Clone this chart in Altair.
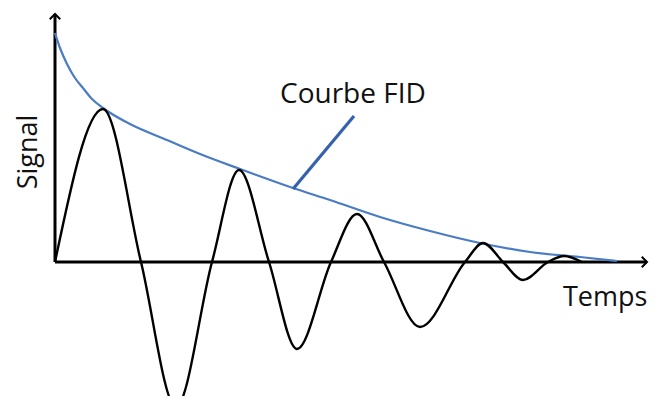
import altair as alt
import pandas as pd

# --- values (time / signal, arbitrary units) ---
osc_t = [0, 0.48, 0.86, 1.21, 1.57, 1.84, 2.14, 2.42, 2.76, 3.02, 3.29, 3.65, 4.10, 4.28, 4.48, 4.68, 4.93, 5.09, 5.27]
osc_s = [0, 1.53, 0, -1.45, 0, 0.92, 0, -0.87, 0, 0.48, 0, -0.65, 0, 0.19, 0, -0.18, 0, 0.06, 0]

fid_t = [0, 0.05, 0.12, 0.20, 0.28, 0.37, 0.48, 0.75, 1.12, 1.45, 1.85, 2.38, 2.75, 3.25, 3.75, 4.25, 4.75, 5.25, 5.62]
fid_s = [2.29, 2.14, 1.98, 1.84, 1.74, 1.63, 1.54, 1.38, 1.22, 1.08, 0.93, 0.74, 0.62, 0.45, 0.31, 0.19, 0.10, 0.05, 0.01]

pointer_t = [2.38, 2.99]
pointer_s = [0.73, 1.46]

axis_x_end = 5.92
axis_y_end = 2.48

labels = ["Courbe FID", "Temps"]
label_t = [2.25, 5.08]
label_s = [1.59, -0.44]
label_size = [28, 27]

ylabel = "Signal"
ylabel_t = -0.18
ylabel_s = 1.10

x_domain = [-0.47, 5.95]
y_domain = [-1.34, 2.54]

W, H = 642, 388
FONT = "Open Sans"

xs = alt.Scale(domain=x_domain, nice=False, zero=False)
ys = alt.Scale(domain=y_domain, nice=False, zero=False)

def X(f="t"):
    return alt.X(f"{f}:Q", scale=xs, axis=None)

def Y(f="s"):
    return alt.Y(f"{f}:Q", scale=ys, axis=None)

osc_df = pd.DataFrame({"t": osc_t, "s": osc_s})
fid_df = pd.DataFrame({"t": fid_t, "s": fid_s})
ptr_df = pd.DataFrame({"t": pointer_t, "s": pointer_s})
axes_df = pd.DataFrame({"t": [0, 0], "s": [0, 0], "t2": [axis_x_end, 0], "s2": [0, axis_y_end]})
lab_df = pd.DataFrame({"label": labels, "t": label_t, "s": label_s, "size": label_size})
ylab_df = pd.DataFrame({"label": [ylabel], "t": [ylabel_t], "s": [ylabel_s]})
arrow_df = pd.DataFrame({"t": [0, axis_x_end], "s": [axis_y_end, 0], "dir": ["up", "right"]})

axes = alt.Chart(axes_df).mark_rule(color="#000000", strokeWidth=3).encode(
    x=X(), y=Y(), x2="t2:Q", y2="s2:Q"
)

arrow_up = alt.Chart(arrow_df[arrow_df["dir"] == "up"]).mark_point(
    shape="M-1,1L0,0L1,1", filled=False, color="#000000", strokeWidth=2, size=110, opacity=1
).encode(x=X(), y=Y())

arrow_right = alt.Chart(arrow_df[arrow_df["dir"] == "right"]).mark_point(
    shape="M-1,-1L0,0L-1,1", filled=False, color="#000000", strokeWidth=2, size=110, opacity=1
).encode(x=X(), y=Y())

osc = alt.Chart(osc_df).mark_line(color="#000000", strokeWidth=2.4, interpolate="monotone").encode(
    x=X(), y=Y(), order="t:Q"
)

fid = alt.Chart(fid_df).mark_line(color="#4a7cc4", strokeWidth=2.2, interpolate="monotone").encode(
    x=X(), y=Y(), order="t:Q"
)

ptr = alt.Chart(ptr_df).mark_line(color="#3561ad", strokeWidth=3.2).encode(
    x=X(), y=Y()
)

texts = alt.Chart(lab_df).mark_text(
    align="left", baseline="alphabetic", font=FONT, color="#111111"
).encode(
    x=X(), y=Y(), text="label:N",
    size=alt.Size("size:Q", scale=None, legend=None)
)

ytext = alt.Chart(ylab_df).mark_text(
    align="center", baseline="alphabetic", angle=270, font=FONT, fontSize=27, color="#111111"
).encode(x=X(), y=Y(), text="label:N")

chart = alt.layer(axes, fid, osc, ptr, arrow_up, arrow_right, texts, ytext).properties(
    width=W, height=H, padding=0, background="white",
    autosize=alt.AutoSizeParams(type="none")
).configure_view(stroke=None)

chart.save("out.html", embed_options={"renderer": "svg", "actions": False})
